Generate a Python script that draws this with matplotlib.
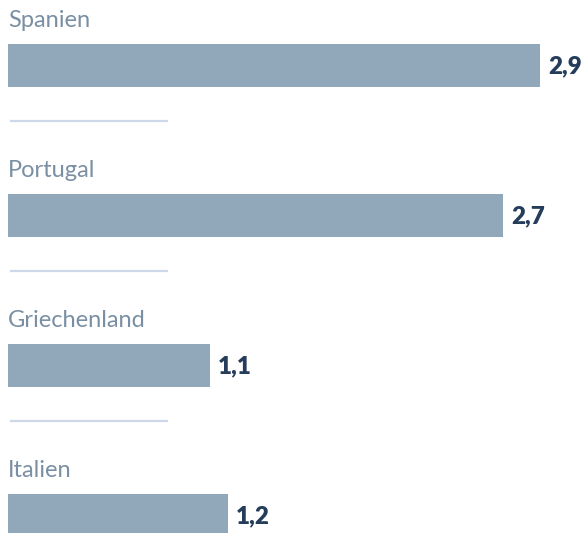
import matplotlib
matplotlib.use("Agg")
import matplotlib.pyplot as plt

countries = ["Spanien", "Portugal", "Griechenland", "Italien"]
values = [2.9, 2.7, 1.1, 1.2]
value_labels = ["2,9", "2,7", "1,1", "1,2"]

bar_color = "#91a7ba"
label_color = "#7a8fa3"
value_color = "#253d5b"
sep_color = "#cdd8ea"

plt.rcParams['font.family'] = ['Lato', 'DejaVu Sans']

W, H = 586, 533
fig = plt.figure(figsize=(W / 100, H / 100), dpi=100)
ax = fig.add_axes([0, 0, 1, 1])

# x axis: 1 unit = px_per_unit pixels, bars start 8px from the left
px_per_unit = 183.4
ax.set_xlim(-8 / px_per_unit, (W - 8) / px_per_unit)
# y axis in pixels from the top
ax.set_ylim(H, 0)
ax.axis("off")

step = 150
bar_top0 = 44
bar_h = 43

for i, (name, val, lab) in enumerate(zip(countries, values, value_labels)):
    top = bar_top0 + i * step
    ax.barh(top + bar_h / 2, val, height=bar_h, left=0, color=bar_color)
    ax.text(0, top - 17, name, fontsize=17, color=label_color,
            ha="left", va="baseline")
    ax.text(val + 8 / px_per_unit, top + bar_h / 2 + 1, lab, fontsize=17.5,
            fontweight="heavy", color=value_color, ha="left", va="center")
    if i < len(countries) - 1:
        y_sep = top + bar_h + 34
        ax.plot([2 / px_per_unit, 160 / px_per_unit], [y_sep, y_sep],
                color=sep_color, lw=1.6, solid_capstyle="butt")

fig.savefig("out.png", dpi=100)
